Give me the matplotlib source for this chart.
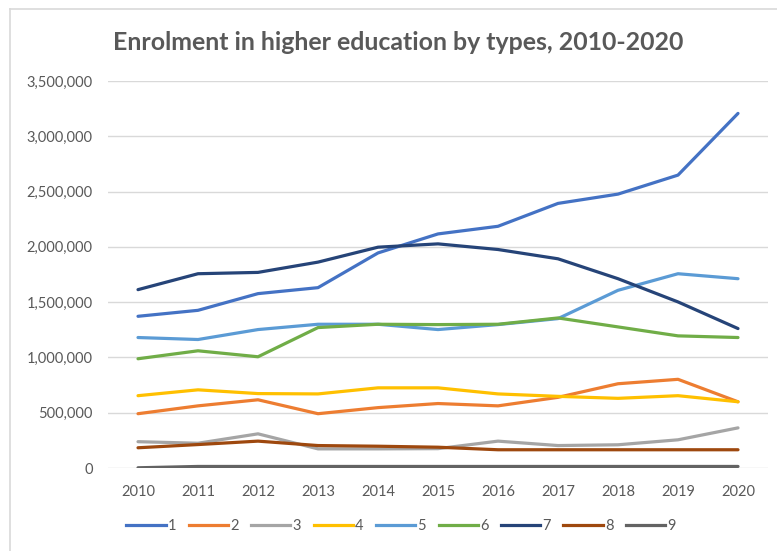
import matplotlib
matplotlib.use("Agg")
import matplotlib.pyplot as plt
from matplotlib.lines import Line2D
from matplotlib.ticker import FuncFormatter, MultipleLocator

years = [2010, 2011, 2012, 2013, 2014, 2015, 2016, 2017, 2018, 2019, 2020]

type_1 = [1372000, 1426000, 1577000, 1631000, 1945000, 2117000, 2186000, 2393000, 2477000, 2649000, 3207000]
type_2 = [491000, 562000, 617000, 491000, 546000, 583000, 562000, 639000, 762000, 802000, 599000]
type_3 = [238000, 224000, 309000, 173000, 173000, 175000, 243000, 203000, 210000, 255000, 363000]
type_4 = [654000, 707000, 673000, 670000, 725000, 725000, 670000, 648000, 630000, 654000, 599000]
type_5 = [1180000, 1162000, 1252000, 1300000, 1300000, 1252000, 1297000, 1351000, 1607000, 1757000, 1712000]
type_6 = [988000, 1060000, 1006000, 1270000, 1300000, 1297000, 1300000, 1357000, 1276000, 1195000, 1180000]
type_7 = [1613000, 1757000, 1769000, 1862000, 1997000, 2027000, 1976000, 1892000, 1712000, 1502000, 1261000]
type_8 = [183000, 212000, 243000, 203000, 197000, 188000, 165000, 165000, 165000, 165000, 165000]
type_9 = [2000, 14000, 14000, 14000, 14000, 14000, 14000, 14000, 14000, 14000, 14000]

series_labels = ["1", "2", "3", "4", "5", "6", "7", "8", "9"]
series_values = [type_1, type_2, type_3, type_4, type_5, type_6, type_7, type_8, type_9]
series_colors = ["#4472C4", "#ED7D31", "#A5A5A5", "#FFC000", "#5B9BD5",
                 "#70AD47", "#264478", "#9E480E", "#636363"]

title = "Enrolment in higher education by types, 2010-2020"

text_color = "#595959"
grid_color = "#D9D9D9"
plt.rcParams["font.family"] = ["Lato", "DejaVu Sans"]

fig = plt.figure(figsize=(7.77, 5.51), dpi=100)
W, H = 777, 551
ax = fig.add_axes([108 / W, 1 - 468 / H, 660 / W, (468 - 81) / H])

x = list(range(len(years)))
for vals, color, lab in zip(series_values, series_colors, series_labels):
    ax.plot(x, vals, color=color, lw=2.3, label=lab, solid_capstyle="round",
            solid_joinstyle="round")

ax.set_xlim(-0.5, len(years) - 0.5)
ax.set_ylim(0, 3500000)
ax.yaxis.set_major_locator(MultipleLocator(500000))
ax.yaxis.set_major_formatter(FuncFormatter(lambda v, p: f"{int(v):,}"))
ax.set_xticks(x)
ax.set_xticklabels([str(y) for y in years])

ax.grid(axis="y", color=grid_color, lw=1)
ax.set_axisbelow(True)
for s in ax.spines.values():
    s.set_visible(False)
ax.tick_params(axis="both", length=0, colors=text_color, labelsize=10.5)
ax.tick_params(axis="y", pad=11)
ax.tick_params(axis="x", pad=12.5)

fig.text(398 / W, 1 - 43 / H, title, ha="center", va="center",
         fontsize=17.9, fontweight="bold", color=text_color)

handles = [Line2D([0], [0], color=c, lw=2.3) for c in series_colors]
fig.legend(handles, series_labels, loc="center", bbox_to_anchor=(401 / W, 1 - 526 / H),
           ncol=9, frameon=False, fontsize=10.5, handlelength=2.7, handletextpad=0.15,
           columnspacing=0.85, labelcolor=text_color)

# chart frame
fig.add_artist(Line2D([10 / W, 1], [1 - 9 / H, 1 - 9 / H], color=grid_color, lw=1.2,
                      transform=fig.transFigure))
fig.add_artist(Line2D([10 / W, 10 / W], [0, 1 - 9 / H], color=grid_color, lw=1.2,
                      transform=fig.transFigure))

fig.savefig("out.png", dpi=100)
